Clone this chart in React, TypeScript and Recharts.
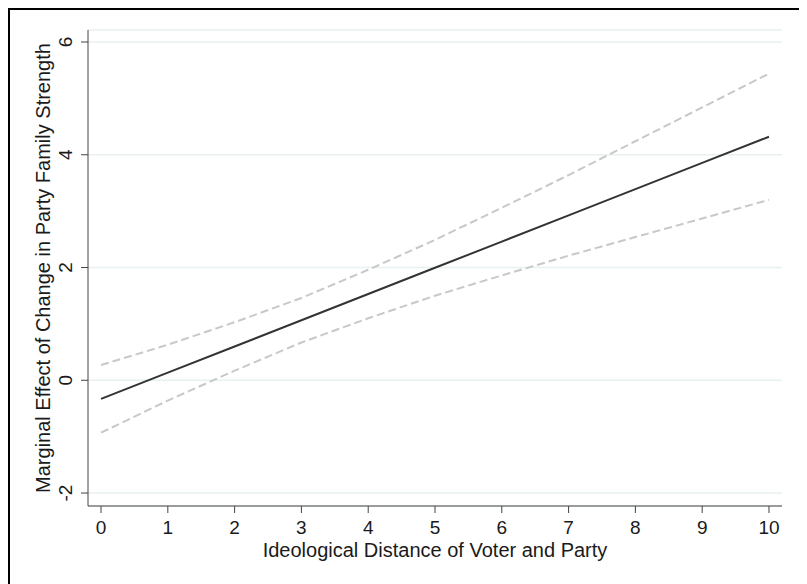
import React from 'react';
import { LineChart, Line, XAxis, YAxis, CartesianGrid } from 'recharts';

// values
const distance = [0, 1, 2, 3, 4, 5, 6, 7, 8, 9, 10];
const effect = [-0.33, 0.135, 0.6, 1.065, 1.53, 1.995, 2.46, 2.925, 3.39, 3.855, 4.32];
const upperCI = [0.27, 0.63, 1.03, 1.46, 1.96, 2.49, 3.06, 3.64, 4.24, 4.84, 5.44];
const lowerCI = [-0.93, -0.36, 0.17, 0.67, 1.1, 1.5, 1.86, 2.21, 2.54, 2.87, 3.2];
const yTicks = [-2, 0, 2, 4, 6];
const xTicks = [0, 1, 2, 3, 4, 5, 6, 7, 8, 9, 10];

const data = distance.map((d, i) => ({
  d,
  effect: effect[i],
  upper: upperCI[i],
  lower: lowerCI[i],
}));

const FONT = '"Liberation Sans", Arial, Helvetica, sans-serif';

function YTick(props: any) {
  const { x, y, payload } = props;
  return (
    <text
      x={x}
      y={y}
      transform={`rotate(-90, ${x}, ${y})`}
      textAnchor="middle"
      fill="#1a1a1a"
      fontSize={19}
      fontFamily={FONT}
    >
      {payload.value}
    </text>
  );
}

export default function App() {
  return (
    <div
      style={{
        width: 792,
        height: 590,
        border: '2px solid #000',
        background: '#fff',
        fontFamily: FONT,
      }}
    >
      <LineChart
        width={792}
        height={574}
        data={data}
        margin={{ top: 20, right: 20, left: 0, bottom: 18 }}
      >
        <CartesianGrid vertical={false} stroke="#e8f0f1" strokeWidth={1.5} />
        <XAxis
          dataKey="d"
          type="number"
          domain={[-0.195, 10.195]}
          ticks={xTicks}
          allowDataOverflow
          height={60}
          tickSize={7}
          tickMargin={8}
          stroke="#444"
          tick={{ fill: '#1a1a1a', fontSize: 19, fontFamily: FONT }}
          label={{
            value: 'Ideological Distance of Voter and Party',
            position: 'insideBottom',
            offset: 9,
            style: { fill: '#1a1a1a', fontSize: 20, fontFamily: FONT },
          }}
        />
        <YAxis
          type="number"
          domain={[-2.23, 6.213]}
          ticks={yTicks}
          allowDataOverflow
          width={78}
          tickSize={7}
          tickMargin={9}
          stroke="#444"
          tick={<YTick />}
          label={{
            value: 'Marginal Effect of Change in Party Family Strength',
            angle: -90,
            position: 'insideLeft',
            offset: 33,
            style: { fill: '#1a1a1a', fontSize: 20, fontFamily: FONT, textAnchor: 'middle' },
          }}
        />
        <Line
          dataKey="upper"
          stroke="#c8c8c8"
          strokeWidth={2}
          strokeDasharray="8 4"
          dot={false}
          isAnimationActive={false}
        />
        <Line
          dataKey="lower"
          stroke="#c8c8c8"
          strokeWidth={2}
          strokeDasharray="8 4"
          dot={false}
          isAnimationActive={false}
        />
        <Line
          dataKey="effect"
          stroke="#333"
          strokeWidth={2}
          dot={false}
          isAnimationActive={false}
        />
      </LineChart>
    </div>
  );
}
